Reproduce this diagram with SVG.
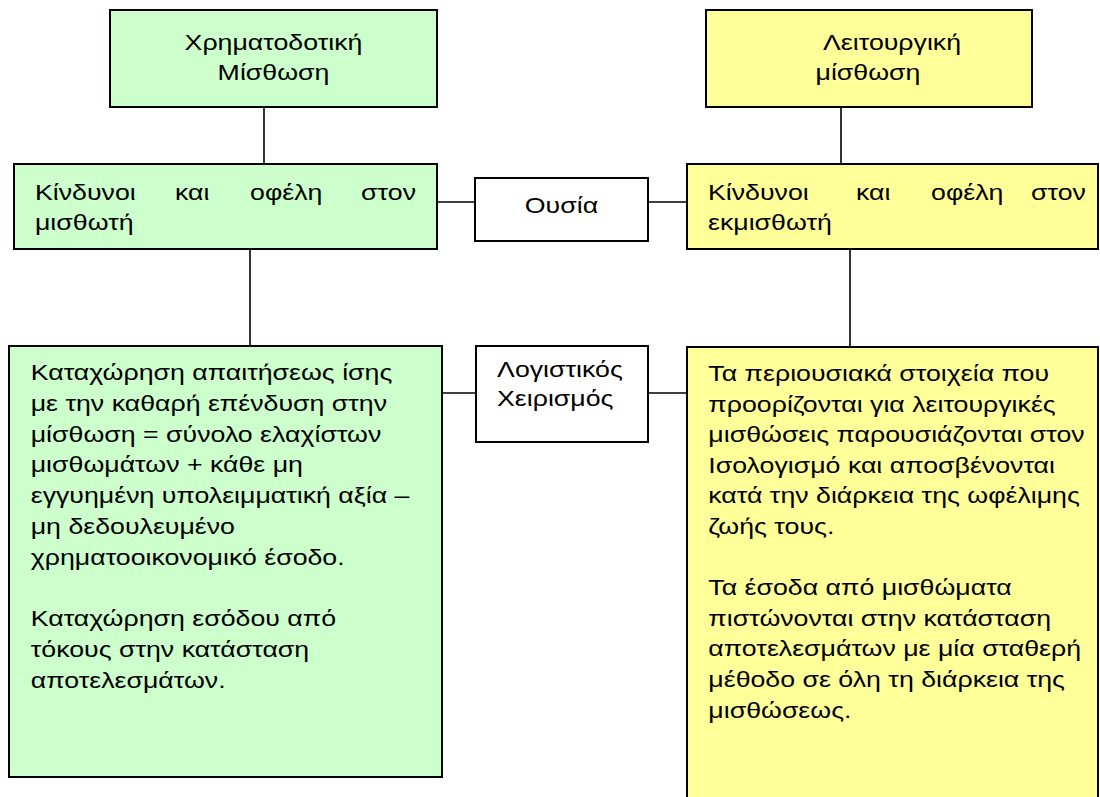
<svg xmlns="http://www.w3.org/2000/svg" width="1100" height="797" viewBox="0 0 1100 797">
  <style>
    .box { stroke: #000; stroke-width: 2; }
    .green { fill: #ccffcc; }
    .yellow { fill: #ffff99; }
    .plain { fill: #fff; }
    .link { stroke: #000; stroke-width: 1.6; fill: none; }
    text { font-family: "Liberation Sans", Arial, sans-serif; font-size: 22px; fill: #000; }
    .mid { text-anchor: middle; }
    .end { text-anchor: end; }
  </style>
  <rect width="1100" height="797" fill="#fff"/>

  <!-- connectors -->
  <g id="connectors">
    <line class="link" x1="264" y1="107" x2="264" y2="164"/>
    <line class="link" x1="841" y1="107" x2="841" y2="164"/>
    <line class="link" x1="437" y1="202" x2="475" y2="202"/>
    <line class="link" x1="648" y1="202" x2="687" y2="202"/>
    <line class="link" x1="250" y1="249" x2="250" y2="346"/>
    <line class="link" x1="850" y1="249" x2="850" y2="347"/>
    <line class="link" x1="442" y1="393" x2="476" y2="393"/>
    <line class="link" x1="648" y1="393" x2="687" y2="393"/>
  </g>

  <!-- text is set in a horizontally widened face: x values are divided by 1.215 -->

  <!-- finance lease, header -->
  <g id="finance-lease">
    <rect class="box green" x="110" y="10" width="327" height="97"/>
    <g transform="scale(1.215 1)">
      <text class="mid" x="225.1" y="50">Χρηματοδοτική</text>
      <text class="mid" x="225.1" y="80">Μίσθωση</text>
    </g>
  </g>

  <!-- operating lease, header -->
  <g id="operating-lease">
    <rect class="box yellow" x="706" y="10" width="326" height="97"/>
    <g transform="scale(1.215 1)">
      <text class="mid" x="734.2" y="50">Λειτουργική</text>
      <text class="mid" x="714.4" y="80">μίσθωση</text>
    </g>
  </g>

  <!-- risks and rewards: lessee -->
  <g id="risks-lessee">
    <rect class="box green" x="14" y="164" width="423" height="85"/>
    <g transform="scale(1.215 1)">
      <text x="28.8" y="200">Κίνδυνοι</text>
      <text x="144" y="200">και</text>
      <text x="205.8" y="200">οφέλη</text>
      <text class="end" x="342.4" y="200">στον</text>
      <text x="28.8" y="230">μισθωτή</text>
    </g>
  </g>

  <!-- substance -->
  <g id="substance">
    <rect class="box plain" x="475" y="178" width="173" height="63"/>
    <g transform="scale(1.215 1)">
      <text class="mid" x="462.1" y="213">Ουσία</text>
    </g>
  </g>

  <!-- risks and rewards: lessor -->
  <g id="risks-lessor">
    <rect class="box yellow" x="687" y="164" width="411" height="85"/>
    <g transform="scale(1.215 1)">
      <text x="582.7" y="200">Κίνδυνοι</text>
      <text x="704.5" y="200">και</text>
      <text x="766.3" y="200">οφέλη</text>
      <text class="end" x="893.8" y="200">στον</text>
      <text x="582.7" y="230">εκμισθωτή</text>
    </g>
  </g>

  <!-- accounting treatment -->
  <g id="accounting">
    <rect class="box plain" x="476" y="346" width="172" height="96"/>
    <g transform="scale(1.215 1)">
      <text x="409.1" y="377">Λογιστικός</text>
      <text x="409.1" y="406">Χειρισμός</text>
    </g>
  </g>

  <!-- lessee treatment -->
  <g id="lessee-treatment">
    <rect class="box green" x="9" y="346" width="433" height="431"/>
    <g transform="scale(1.215 1)">
      <text x="25.3" y="380">Καταχώρηση απαιτήσεως ίσης</text>
      <text x="25.3" y="410.8">με την καθαρή επένδυση στην</text>
      <text x="25.3" y="441.6">μίσθωση = σύνολο ελαχίστων</text>
      <text x="25.3" y="472.4">μισθωμάτων + κάθε μη</text>
      <text x="25.3" y="503.2">εγγυημένη υπολειμματική αξία –</text>
      <text x="25.3" y="534">μη δεδουλευμένο</text>
      <text x="25.3" y="564.8">χρηματοοικονομικό έσοδο.</text>
      <text x="25.3" y="626.4">Καταχώρηση εσόδου από</text>
      <text x="25.3" y="657.2">τόκους στην κατάσταση</text>
      <text x="25.3" y="688">αποτελεσμάτων.</text>
    </g>
  </g>

  <!-- lessor treatment -->
  <g id="lessor-treatment">
    <rect class="box yellow" x="687" y="347" width="411" height="470"/>
    <g transform="scale(1.215 1)">
      <text x="583" y="381">Τα περιουσιακά στοιχεία που</text>
      <text x="583" y="411.6">προορίζονται για λειτουργικές</text>
      <text x="583" y="442.2">μισθώσεις παρουσιάζονται στον</text>
      <text x="583" y="472.8">Ισολογισμό και αποσβένονται</text>
      <text x="583" y="503.4">κατά την διάρκεια της ωφέλιμης</text>
      <text x="583" y="534">ζωής τους.</text>
      <text x="583" y="595.2">Τα έσοδα από μισθώματα</text>
      <text x="583" y="625.8">πιστώνονται στην κατάσταση</text>
      <text x="583" y="656.4">αποτελεσμάτων με μία σταθερή</text>
      <text x="583" y="687">μέθοδο σε όλη τη διάρκεια της</text>
      <text x="583" y="717.6">μισθώσεως.</text>
    </g>
  </g>
</svg>
